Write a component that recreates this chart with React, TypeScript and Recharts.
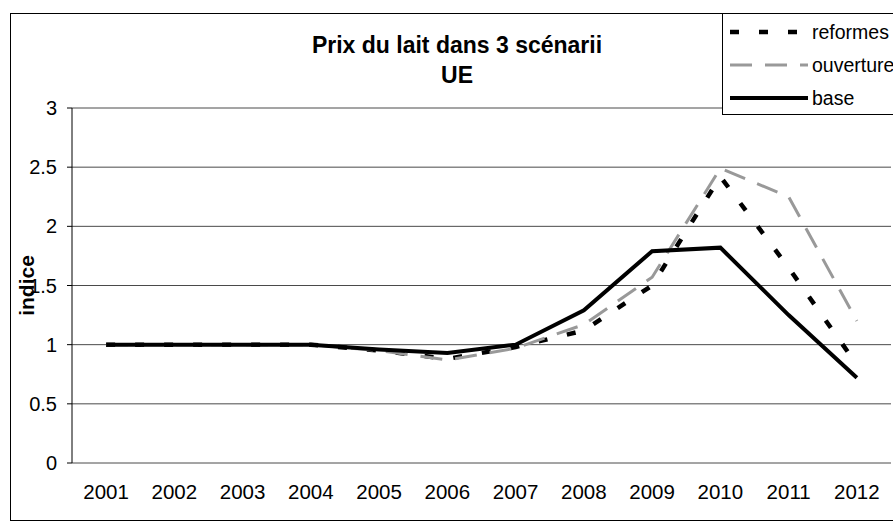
import { LineChart, Line, XAxis, YAxis, CartesianGrid, Legend } from 'recharts';

// milk price index, 3 scenarios (EU)
const years = ['2001', '2002', '2003', '2004', '2005', '2006', '2007', '2008', '2009', '2010', '2011', '2012'];
const reformes = [1, 1, 1, 1, 0.95, 0.88, 0.98, 1.12, 1.5, 2.42, 1.65, 0.83];
const ouverture = [1, 1, 1, 1, 0.95, 0.87, 0.97, 1.17, 1.57, 2.49, 2.25, 1.2];
const base = [1, 1, 1, 1, 0.96, 0.93, 1.0, 1.29, 1.79, 1.82, 1.25, 0.72];
const yTicks = [0, 0.5, 1, 1.5, 2, 2.5, 3];

const FONT = '"Liberation Sans", Arial, sans-serif';

const series = [
    { key: 'reformes', color: '#000', width: 4.5, dash: '9 20' },
    { key: 'ouverture', color: '#999', width: 3, dash: '22 13' },
    { key: 'base', color: '#000', width: 4, dash: undefined as string | undefined },
];

const data = years.map((year, i) => ({
    pos: i + 1,
    year,
    reformes: reformes[i],
    ouverture: ouverture[i],
    base: base[i],
}));

// category boundaries for the tick marks, centres for the labels
const bandEdges = years.map((_, i) => i + 0.5).concat(years.length + 0.5);
const centres = years.map((_, i) => i + 1);

const LegendBox = () => (
    <div style={{ width: 200, height: 102, border: '1px solid #000', background: '#fff', boxSizing: 'border-box' }}>
        <svg width={200} height={100} style={{ display: 'block' }}>
            {series.map((s, i) => (
                <g key={s.key}>
                    <line
                        x1={7}
                        x2={85}
                        y1={18 + i * 33}
                        y2={18 + i * 33}
                        stroke={s.color}
                        strokeWidth={s.width}
                        strokeDasharray={s.dash}
                    />
                    <text x={89} y={18 + i * 33} dominantBaseline="central" fontSize={19.5} fontFamily={FONT} fill="#000">
                        {s.key}
                    </text>
                </g>
            ))}
        </svg>
    </div>
);

export default function App() {
    return (
        <div
            style={{
                position: 'absolute',
                left: 0,
                top: 0,
                width: 893,
                height: 525,
                overflow: 'hidden',
                background: '#fff',
                fontFamily: FONT,
            }}
        >
            <div
                style={{
                    position: 'absolute',
                    left: 10,
                    top: 13,
                    width: 920,
                    height: 508,
                    border: '1px solid #000',
                    boxSizing: 'border-box',
                }}
            />
            <div
                style={{
                    position: 'absolute',
                    left: 257,
                    width: 400,
                    top: 30,
                    textAlign: 'center',
                    fontWeight: 'bold',
                    fontSize: 23,
                    lineHeight: '30px',
                    color: '#000',
                }}
            >
                Prix du lait dans 3 scénarii
                <br />
                UE
            </div>
            <LineChart width={893} height={525} data={data} margin={{ top: 108, right: 2, left: 12, bottom: 22 }}>
                <CartesianGrid vertical={false} stroke="#4a4a4a" xAxisId="labels" />
                <XAxis
                    xAxisId="edges"
                    type="number"
                    dataKey="pos"
                    domain={[0.5, years.length + 0.5]}
                    ticks={bandEdges}
                    tick={false}
                    tickSize={5}
                    height={0}
                    stroke="#000"
                    allowDecimals
                />
                <XAxis
                    xAxisId="labels"
                    type="number"
                    dataKey="pos"
                    domain={[0.5, years.length + 0.5]}
                    ticks={centres}
                    tickFormatter={(v: number) => years[v - 1]}
                    axisLine={false}
                    tickLine={false}
                    tickSize={0}
                    tickMargin={21}
                    height={40}
                    tick={{ fill: '#000', fontSize: 20.5, fontFamily: FONT }}
                />
                <YAxis
                    domain={[0, 3]}
                    ticks={yTicks}
                    width={60}
                    tickSize={5}
                    tickMargin={10}
                    stroke="#000"
                    tick={{ fill: '#000', fontSize: 20, fontFamily: FONT }}
                    label={{
                        value: 'indice',
                        angle: -90,
                        position: 'insideLeft',
                        offset: 15,
                        style: { fontWeight: 'bold', fontSize: 21, fontFamily: FONT, fill: '#000', textAnchor: 'middle' },
                    }}
                />
                <Legend
                    layout="horizontal"
                    verticalAlign="middle"
                    align="center"
                    content={<LegendBox />}
                    wrapperStyle={{ position: 'absolute', left: 722, top: 13, width: 200, height: 102 }}
                />
                {series.map((s) => (
                    <Line
                        key={s.key}
                        xAxisId="labels"
                        type="linear"
                        dataKey={s.key}
                        stroke={s.color}
                        strokeWidth={s.width}
                        strokeDasharray={s.dash}
                        dot={false}
                        activeDot={false}
                        isAnimationActive={false}
                    />
                ))}
            </LineChart>
        </div>
    );
}
